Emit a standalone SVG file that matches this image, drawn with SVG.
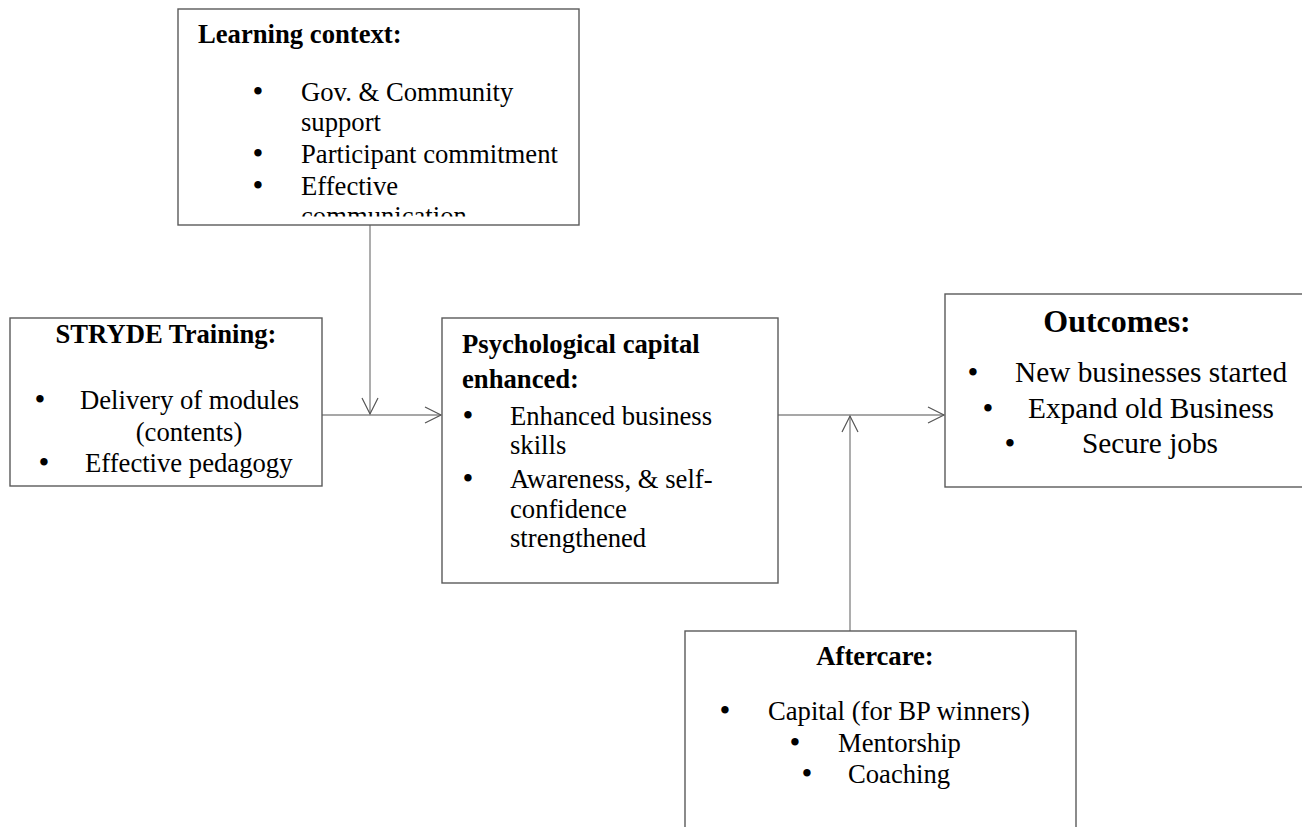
<svg xmlns="http://www.w3.org/2000/svg" width="1302" height="827" viewBox="0 0 1302 827">
<style>
.box{fill:#fff;stroke:#5a5a5a;stroke-width:1.4}
.h{font-family:"Liberation Serif","Times New Roman",serif;font-weight:bold;font-size:26.67px;fill:#000}
.t{font-family:"Liberation Serif","Times New Roman",serif;font-size:26.67px;fill:#000}
.b{font-family:"Liberation Serif","Times New Roman",serif;font-size:31px;fill:#000;text-anchor:middle}
.c{text-anchor:middle}
.conn{stroke:#8a8a8a;stroke-width:1.4;fill:none}
.big{font-size:29.33px}
</style>
<defs>
<marker id="arr" viewBox="0 0 20 20" refX="18" refY="10" markerWidth="20" markerHeight="20" markerUnits="userSpaceOnUse" orient="auto">
<path d="M2,2 L18,10 L2,18" fill="none" stroke="#555" stroke-width="1.2"/>
</marker>
<clipPath id="lcClip"><rect x="178" y="9" width="401" height="207.5"/></clipPath>
</defs>
<rect width="1302" height="827" fill="#fff"/>

<g id="connectors">
<line class="conn" x1="322" y1="415" x2="441" y2="415" marker-end="url(#arr)"/>
<line class="conn" x1="370" y1="225" x2="370" y2="414" marker-end="url(#arr)"/>
<line class="conn" x1="778" y1="415" x2="944" y2="415" marker-end="url(#arr)"/>
<line class="conn" x1="850" y1="631" x2="850" y2="416" marker-end="url(#arr)"/>
</g>

<g id="learning-context">
<rect class="box" x="178" y="9" width="401" height="216"/>
<text class="h" x="198" y="43">Learning context:</text>
<g clip-path="url(#lcClip)">
<text class="b" x="258" y="102">•</text>
<text class="t" x="301" y="101">Gov. &amp; Community</text>
<text class="t" x="301" y="131">support</text>
<text class="b" x="258" y="164">•</text>
<text class="t" x="301" y="163">Participant commitment</text>
<text class="b" x="258" y="196">•</text>
<text class="t" x="301" y="195">Effective</text>
<text class="t" x="301" y="225">communication</text>
</g>
</g>

<g id="stryde-training">
<rect class="box" x="10" y="318" width="312" height="168"/>
<text class="h c" x="166" y="343">STRYDE Training:</text>
<text class="b" x="40" y="410">•</text>
<text class="t" x="80" y="409">Delivery of modules</text>
<text class="t c" x="189" y="441">(contents)</text>
<text class="b" x="44" y="473">•</text>
<text class="t" x="85" y="472">Effective pedagogy</text>
</g>

<g id="psychological-capital">
<rect class="box" x="442" y="318" width="336" height="265"/>
<text class="h" x="462" y="353">Psychological capital</text>
<text class="h" x="462" y="388">enhanced:</text>
<text class="b" x="468" y="426">•</text>
<text class="t" x="510" y="425">Enhanced business</text>
<text class="t" x="510" y="454">skills</text>
<text class="b" x="468" y="489">•</text>
<text class="t" x="510" y="488">Awareness, &amp; self-</text>
<text class="t" x="510" y="518">confidence</text>
<text class="t" x="510" y="547">strengthened</text>
</g>

<g id="outcomes">
<rect class="box" x="945" y="294" width="360" height="193"/>
<text class="h c" x="1117" y="332" style="font-size:32px">Outcomes:</text>
<text class="b" x="973" y="383">•</text>
<text class="t big" x="1015" y="382">New businesses started</text>
<text class="b" x="988" y="419">•</text>
<text class="t big" x="1028" y="418">Expand old Business</text>
<text class="b" x="1010" y="454">•</text>
<text class="t big" x="1082" y="453">Secure jobs</text>
</g>

<g id="aftercare">
<rect class="box" x="685" y="631" width="391" height="210"/>
<text class="h c" x="875" y="665">Aftercare:</text>
<text class="b" x="725" y="721">•</text>
<text class="t" x="768" y="720">Capital (for BP winners)</text>
<text class="b" x="795" y="753">•</text>
<text class="t" x="838" y="752">Mentorship</text>
<text class="b" x="807" y="784">•</text>
<text class="t" x="848" y="783">Coaching</text>
</g>
</svg>
